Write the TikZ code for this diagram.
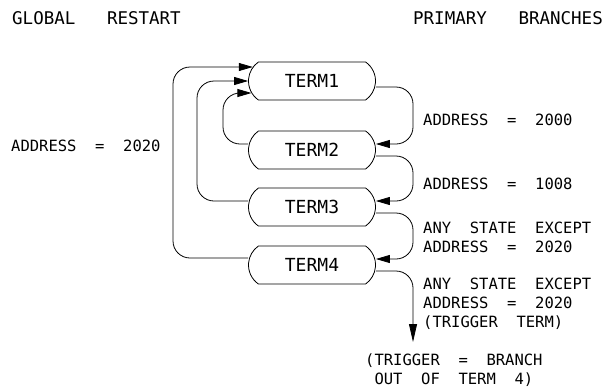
\documentclass[tikz,border=0pt]{standalone}
\usepackage{fontspec}
\setmonofont{DejaVu Sans Mono}
\usetikzlibrary{shapes.misc,arrows.meta}
\newcommand\labfont{\ttfamily\fontsize{15.5}{19}\selectfont}
\newcommand\headfont{\ttfamily\fontsize{17.5}{21}\selectfont}
\newcommand\termfont{\ttfamily\fontsize{18}{22}\selectfont}
\begin{document}
\begin{tikzpicture}[x=1pt,y=-1pt,
  term/.style={draw, rounded rectangle, rounded rectangle arc length=110,
    minimum width=127pt, minimum height=38pt, inner sep=0pt, font=\termfont, line width=0.8pt},
  lab/.style={anchor=west, inner sep=0pt, font=\labfont, align=left},
  head/.style={inner sep=0pt, font=\headfont},
  conn/.style={line width=0.8pt, rounded corners=17pt},
  arr/.style={-{Triangle[length=14pt,width=8pt]}},
  bigarr/.style={-{Triangle[length=18pt,width=8pt]}}]
\useasboundingbox (0,0) rectangle (607,391);
% headers
\node[head,anchor=west] (hl) at (12,18) {GLOBAL~~~RESTART};
\node[head,anchor=east] (hr) at (603,18) {PRIMARY~~~BRANCHES};
% terms
\node[term] (T1) at (312,81) {TERM1};
\node[term] (T2) at (312,150) {TERM2};
\node[term] (T3) at (312,207) {TERM3};
\node[term] (T4) at (312,265) {TERM4};
% labels
\node[lab] (lg) at (11,146) {ADDRESS~~=~~2020};
\node[lab] (l1) at (423,120) {ADDRESS~~=~~2000};
\node[lab] (l2) at (423,184) {ADDRESS~~=~~1008};
\node[lab] (l3) at (423,237.5) {ANY~~STATE~~EXCEPT\\ADDRESS~~=~~2020};
\node[lab] (l4) at (423,304) {ANY~~STATE~~EXCEPT\\ADDRESS~~=~~2020\\(TRIGGER~~TERM)};
\node[lab] (l5) at (365,370.5) {(TRIGGER~~=~~BRANCH\\~OUT~~OF~~TERM~~4)};
% corner coordinates
\coordinate (o1) at (173,258);
\coordinate (o2) at (173,67);
\coordinate (m1) at (197,201);
\coordinate (m2) at (197,81);
\coordinate (i1) at (223,144);
\coordinate (i2) at (223,93);
\coordinate (r1a) at (413,87);
\coordinate (r1b) at (413,144);
\coordinate (r2a) at (413,156);
\coordinate (r2b) at (413,201);
\coordinate (r3a) at (413,213);
\coordinate (r3b) at (413,259);
\coordinate (r4a) at (413,271);
\coordinate (trig) at (413,342);
% global restart loops
\draw[conn,arr] ([yshift=7pt]T4.west) -- (o1) -- (o2) -- ([xshift=4.7pt,yshift=14pt]T1.west);
\draw[conn,arr] ([yshift=6pt]T3.west) -- (m1) -- (m2) -- (T1.west);
\draw[conn,arr] ([yshift=6pt]T2.west) -- (i1) -- (i2) -- ([xshift=3.3pt,yshift=-12pt]T1.west);
% primary branches
\draw[conn,arr] ([yshift=-6pt]T1.east) -- (r1a) -- (r1b) -- ([yshift=6pt]T2.east);
\draw[conn,arr] ([yshift=-6pt]T2.east) -- (r2a) -- (r2b) -- ([yshift=6pt]T3.east);
\draw[conn,arr] ([yshift=-6pt]T3.east) -- (r3a) -- (r3b) -- ([yshift=6pt]T4.east);
\draw[conn,bigarr] ([yshift=-6pt]T4.east) -- (r4a) -- (trig);
\end{tikzpicture}
\end{document}
